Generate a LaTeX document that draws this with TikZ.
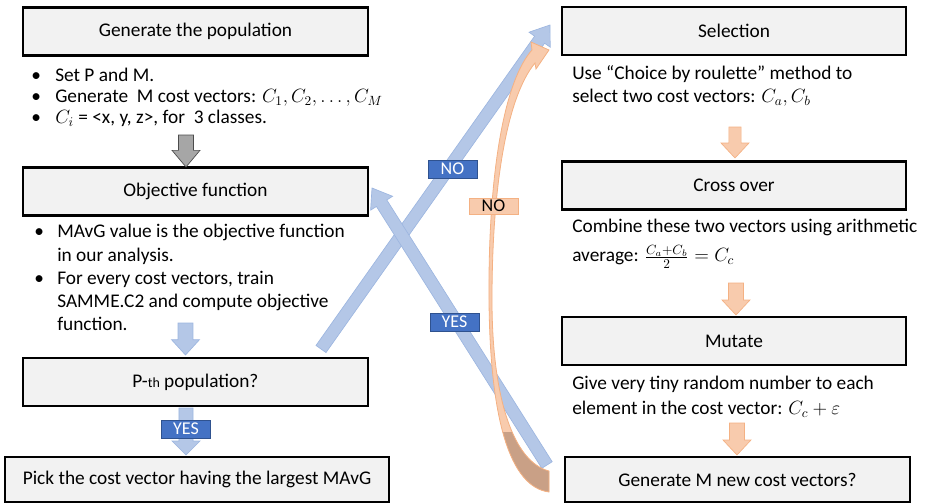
\documentclass[tikz,border=0pt]{standalone}
\usepackage{fontspec}
\setmainfont{Carlito}
\usetikzlibrary{arrows.meta,calc}
\definecolor{boxfill}{HTML}{F2F2F2}
\definecolor{blueA}{HTML}{B4C7E7}
\definecolor{blueB}{HTML}{9DB6E0}
\definecolor{blueL}{HTML}{4472C4}
\definecolor{blueLD}{HTML}{2F528F}
\definecolor{orA}{HTML}{F8CBAD}
\definecolor{orB}{HTML}{F4B183}
\definecolor{orD}{HTML}{C9A086}
\definecolor{grayA}{HTML}{A6A6A6}
\newcommand\blkarrow[6]{% #1 style, #2 from, #3 to, #4 half shaft, #5 half head, #6 head length
  \coordinate (hh) at ($(#3)!#6!(#2)$);
  \draw[#1] ($(#2)!#4!90:(#3)$) -- ($(hh)!#4!90:(#3)$) -- ($(hh)!#5!90:(#3)$) -- (#3)
    -- ($(hh)!#5!-90:(#3)$) -- ($(hh)!#4!-90:(#3)$) -- ($(#2)!#4!-90:(#3)$) -- cycle;}
\begin{document}
\begin{tikzpicture}[x=0.75pt,y=-0.75pt,
  font=\fontsize{14.5}{17}\selectfont,
  stepbox/.style={draw=black, line width=2.2pt, fill=boxfill, inner sep=0pt,
     minimum width=258.75pt, minimum height=35.5pt},
  txt/.style={anchor=west, inner sep=0pt},
  bul/.style={anchor=west, inner sep=0pt},
  grayarr/.style={fill=grayA, draw=black!70, line width=0.5pt},
  bluearr/.style={fill=blueA, draw=blueB, line width=0.5pt},
  orarr/.style={fill=orA, draw=orB, line width=0.5pt},
  bluelab/.style={fill=blueL, draw=blueLD, line width=0.4pt, text=white, inner sep=0pt,
     minimum width=36.75pt, minimum height=13.5pt, font=\fontsize{13.5}{15}\selectfont},
  orlab/.style={fill=orA, draw=orB, line width=0.4pt, text=black, inner sep=0pt,
     minimum width=36.75pt, minimum height=12pt, font=\fontsize{13.5}{15}\selectfont}]
\useasboundingbox (0,0) rectangle (926,504);

% ---- left column boxes
\node[stepbox] (gen) at (195.5,31.5) {Generate the population};
\node[stepbox] (obj) at (195.5,191.5) {Objective function};
\node[stepbox, minimum height=36pt] (pth) at (195.5,382) {P-{\fontsize{10.5}{12}\selectfont th} population?};
\node[stepbox, minimum width=288pt, minimum height=33.75pt] (pick) at (197,479.5) {Pick the cost vector having the largest MAvG};

% ---- right column boxes
\node[stepbox, minimum width=258pt, minimum height=36pt] (sel) at (734,31) {Selection};
\node[stepbox, minimum width=258pt] (cross) at (734,185.5) {Cross over};
\node[stepbox, minimum width=258pt, minimum height=36pt] (mut) at (734,341) {Mutate};
\node[stepbox, minimum height=33.75pt] (genm) at (737.5,479.5) {Generate M new cost vectors?};

% ---- left texts
\node[bul] (gb1) at (31,77) {\strut•};
\node[txt] (g1) at (55,77) {\strut Set P and M.};
\node[bul] (gb2) at (31,98) {\strut•};
\node[txt] (g2) at (55,98) {\strut Generate\ \ M cost vectors: $C_1, C_2, \ldots, C_M$};
\node[bul] (gb3) at (31,119) {\strut•};
\node[txt] (g3) at (55,119) {\strut $C_i$ = <x, y, z>, for\ \ 3 classes.};

\node[bul] (ob1) at (34,233) {\strut•};
\node[txt] (o1) at (57,233) {\strut MAvG value is the objective function};
\node[txt] (o2) at (57,257) {\strut in our analysis.};
\node[bul] (ob2) at (34,280) {\strut•};
\node[txt] (o3) at (57,280) {\strut For every cost vectors, train};
\node[txt] (o4) at (57,303) {\strut SAMME.C2 and compute objective};
\node[txt] (o5) at (57,326) {\strut function.};

% ---- right texts
\node[txt] (s1) at (572,75) {\strut Use “Choice by roulette” method to};
\node[txt] (s2) at (572,98) {\strut select two cost vectors: $C_a, C_b$};
\node[txt] (c1) at (572,228) {\strut Combine these two vectors using arithmetic};
\node[txt] (c2) at (572,257) {\strut average: $\frac{C_a+C_b}{2} = C_c$};
\node[txt] (m1) at (572,385) {\strut Give very tiny random number to each};
\node[txt] (m2) at (572,410) {\strut element in the cost vector: $C_c+\varepsilon$};

% ---- vertical block arrows
\coordinate (ga1) at (186,135); \coordinate (ga2) at (186,167);
\blkarrow{grayarr}{ga1}{ga2}{5.6pt}{10.5pt}{12.5pt}
\coordinate (ba1) at (185.5,323); \coordinate (ba2) at (185.5,355);
\blkarrow{bluearr}{ba1}{ba2}{5.6pt}{10.5pt}{11.5pt}
\coordinate (bb1) at (186,408); \coordinate (bb2) at (186,455);
\blkarrow{bluearr}{bb1}{bb2}{5.3pt}{10.5pt}{10.5pt}
\coordinate (oa1) at (735,127); \coordinate (oa2) at (735,158);
\blkarrow{orarr}{oa1}{oa2}{4.6pt}{10.5pt}{11.25pt}
\coordinate (ob1c) at (736,283); \coordinate (ob2c) at (736,315);
\blkarrow{orarr}{ob1c}{ob2c}{5.6pt}{10.5pt}{11.25pt}
\coordinate (oc1) at (737,423); \coordinate (oc2) at (737,455);
\blkarrow{orarr}{oc1}{oc2}{5.6pt}{10.5pt}{11.25pt}

% ---- big crossing blue arrows
\coordinate (no1) at (321,349); \coordinate (no2) at (550,25);
\blkarrow{bluearr}{no1}{no2}{4.6pt}{9.75pt}{13.5pt}
\coordinate (yes1) at (547,465); \coordinate (yes2) at (372,188);
\blkarrow{bluearr}{yes1}{yes2}{4.6pt}{9.75pt}{13.5pt}

% ---- orange curved arrow
\def\orpath{(532,50) .. controls (505,80) and (488,170) .. (489,300)
  .. controls (490,420) and (510,487) .. (549,492) -- (549,471)
  .. controls (514,462) and (492,400) .. (492,300)
  .. controls (492,185) and (507,97) .. (535,63) -- (536,69) -- (549,50) -- (531,42) -- cycle}
\fill[orA] \orpath;
\begin{scope}
  \clip (470,432) rectangle (560,504);
  \fill[orD] \orpath;
\end{scope}
\draw[orB, line width=0.6pt] \orpath;

% ---- labels
\node[bluelab] (nolab) at (452.5,169) {NO};
\node[bluelab] (yeslab) at (454.5,322) {YES};
\node[bluelab] (yeslab2) at (186,429) {YES};
\node[orlab] (nolab2) at (493.5,206) {NO};
\end{tikzpicture}
\end{document}
